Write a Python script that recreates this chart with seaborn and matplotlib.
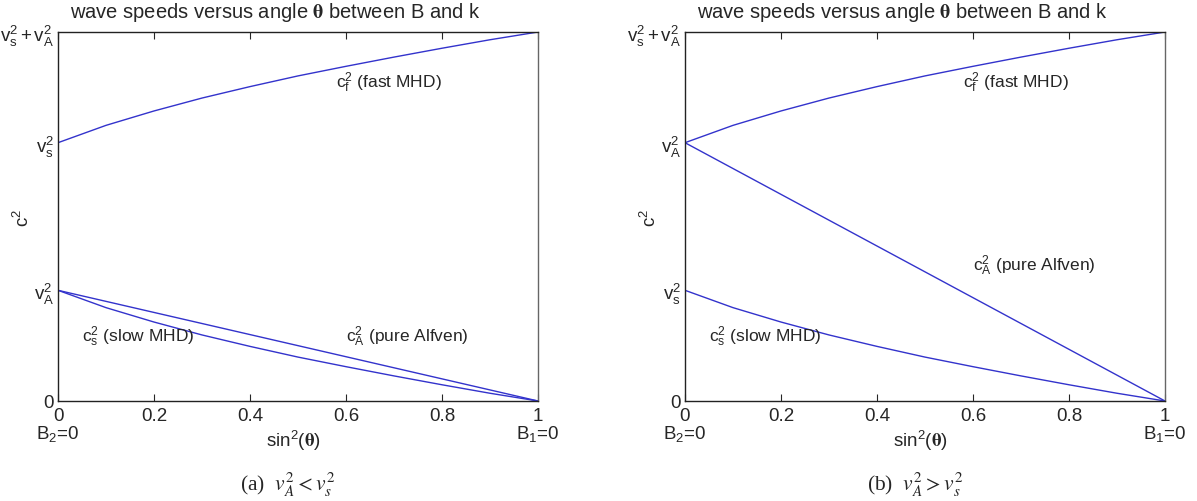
import matplotlib
matplotlib.use('Agg')
import matplotlib.pyplot as plt
import seaborn as sns
import pandas as pd

# sin^2(theta) sample points
sin2 = [0.0, 0.1, 0.2, 0.3, 0.4, 0.5, 0.6, 0.7, 0.8, 0.9, 1.0]

# wave speeds (normalised so that vs^2 + vA^2 = 1)
fast = [0.70, 0.747, 0.786, 0.821, 0.852, 0.881, 0.907, 0.932, 0.956, 0.979, 1.0]
slow = [0.30, 0.253, 0.214, 0.179, 0.148, 0.119, 0.093, 0.068, 0.044, 0.021, 0.0]
alfven_a = [0.30, 0.27, 0.24, 0.21, 0.18, 0.15, 0.12, 0.09, 0.06, 0.03, 0.0]
alfven_b = [0.70, 0.63, 0.56, 0.49, 0.42, 0.35, 0.28, 0.21, 0.14, 0.07, 0.0]

vs2_a, va2_a = 0.70, 0.30
vs2_b, va2_b = 0.30, 0.70

xticks = [0, 0.2, 0.4, 0.6, 0.8, 1]
xticklabels = ['0', '0.2', '0.4', '0.6', '0.8', '1']

sns.set_style('ticks')
plt.rcParams['font.family'] = ['Liberation Sans', 'DejaVu Sans']
plt.rcParams['mathtext.fontset'] = 'stix'

fig = plt.figure(figsize=(11.97, 5.02), dpi=100)
W, H = 1197, 502

line_col = '#3333cc'
fs = 13.5


def panel(left, alfven, vs2, va2, ylab, labels):
    ax = fig.add_axes([left / W, 100 / H, 480 / W, 369 / H])
    df = pd.DataFrame({'x': sin2, 'fast': fast, 'slow': slow, 'alf': alfven})
    for col in ['fast', 'slow', 'alf']:
        sns.lineplot(data=df, x='x', y=col, ax=ax, color=line_col, lw=1.0)
    ax.set_xlim(0, 1)
    ax.set_ylim(0, 1)
    ax.set_xlabel('')
    ax.set_ylabel('')
    ax.set_xticks(xticks)
    ax.set_xticklabels(xticklabels, fontsize=fs)
    ax.set_yticks([0, min(vs2, va2), max(vs2, va2), 1])
    ax.set_yticklabels(ylab, fontsize=fs)
    ax.tick_params(axis='x', direction='in', length=5, width=0.8, top=True, pad=4)
    ax.tick_params(axis='y', length=0, pad=3)
    for s in ax.spines.values():
        s.set_visible(True)
        s.set_linewidth(1.0)
        s.set_color('#222222')
    ax.spines['right'].set_color('#666666')
    # extra labels under x ticks
    ax.text(0, -0.087, r'$\mathregular{B_2}$=0', transform=ax.transAxes, ha='center', va='center', fontsize=fs)
    ax.text(1, -0.087, r'$\mathregular{B_1}$=0', transform=ax.transAxes, ha='center', va='center', fontsize=fs)
    ax.text(0.49, -0.105, r'sin$\mathregular{^2}$($\mathbf{\theta}$)', transform=ax.transAxes,
            ha='center', va='center', fontsize=fs)
    ax.text(-0.073, 0.5, r'c$\mathregular{^2}$', transform=ax.transAxes, ha='center', va='center',
            rotation=90, fontsize=fs)
    ax.text(0.452, 1.041, r'wave speeds versus angle $\mathbf{\theta}$ between B and k',
            transform=ax.transAxes, ha='center', va='baseline', fontsize=14.5)
    for (tx, ty, s) in labels:
        ax.text(tx, ty, s, ha='left', va='center', fontsize=12.5)
    return ax


ylab_a = ['0', r'$\mathregular{v_A^2}$', r'$\mathregular{v_s^2}$', r'$\mathregular{v_s^2+v_A^2}$']
ylab_b = ['0', r'$\mathregular{v_s^2}$', r'$\mathregular{v_A^2}$', r'$\mathregular{v_s^2+v_A^2}$']

panel(58, alfven_a, vs2_a, va2_a, ylab_a, [
    (0.58, 0.865, r'$\mathregular{c_f^2}$ (fast MHD)'),
    (0.05, 0.176, r'$\mathregular{c_s^2}$ (slow MHD)'),
    (0.60, 0.176, r'$\mathregular{c_A^2}$ (pure Alfven)'),
])
panel(685, alfven_b, vs2_b, va2_b, ylab_b, [
    (0.58, 0.865, r'$\mathregular{c_f^2}$ (fast MHD)'),
    (0.60, 0.37, r'$\mathregular{c_A^2}$ (pure Alfven)'),
    (0.05, 0.176, r'$\mathregular{c_s^2}$ (slow MHD)'),
])

fig.text(288 / W, 1 - 485 / H, r'(a)  $v_A^2 < v_s^2$', ha='center', va='center', fontsize=15.5,
         family='Liberation Serif')
fig.text(915 / W, 1 - 485 / H, r'(b)  $v_A^2 > v_s^2$', ha='center', va='center', fontsize=15.5,
         family='Liberation Serif')

fig.savefig('out.png', dpi=100)
